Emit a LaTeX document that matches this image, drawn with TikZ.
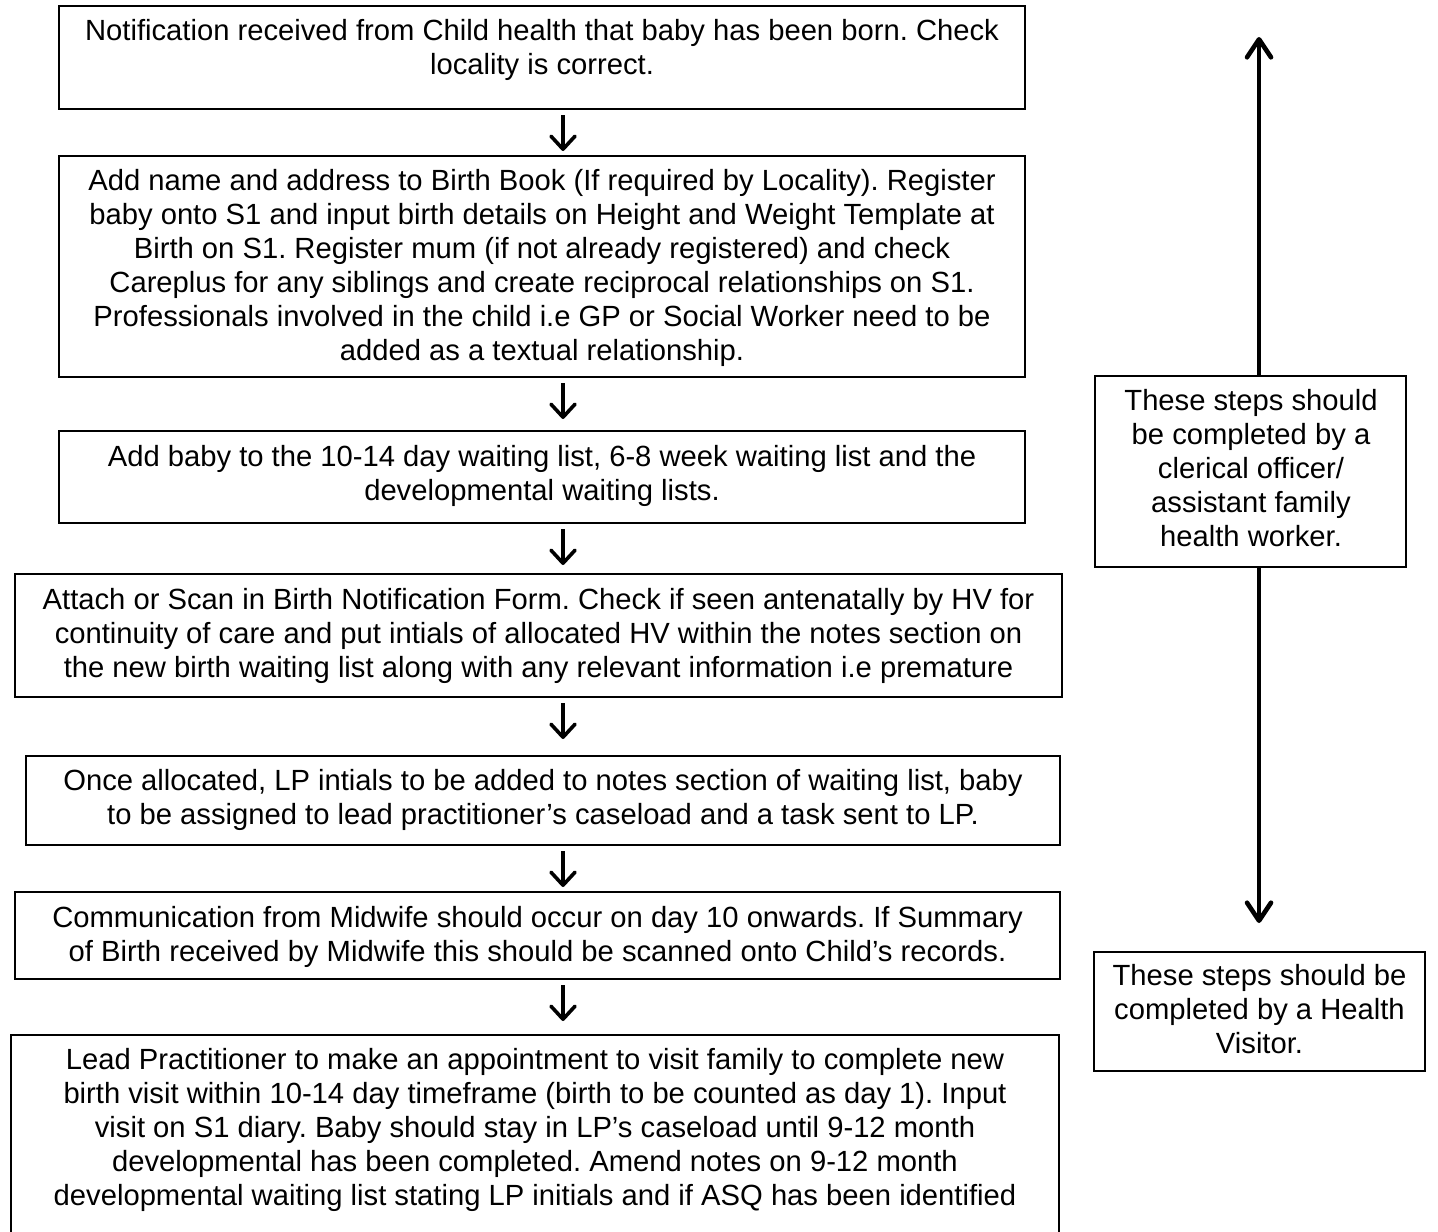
\documentclass[tikz,border=0pt]{standalone}
\usepackage{fontspec}
\setmainfont{Liberation Sans}
\usetikzlibrary{arrows.meta,fit}
\frenchspacing
\begin{document}
\begin{tikzpicture}[x=0.5pt,y=-0.5pt,
  frame/.style={draw=black, line width=1pt, inner sep=0pt},
  txt/.style={align=center, inner sep=0pt, font=\fontsize{14.6}{17}\selectfont},
  flow/.style={line width=1.8pt, -{Straight Barb[length=6.5pt,width=12pt,round]}},
  span/.style={line width=2.3pt, -{Straight Barb[length=9pt,width=12pt,round]}}]
\useasboundingbox (0,0) rectangle (1438,1231);
\fill[white] (0,0) rectangle (1438,1231);
\begin{scope}
\clip (0,0) rectangle (1438,1231);

% process boxes (left column)
\node[frame, fit={(59,6) (1025,109)}] (b1) {};
\node[frame, fit={(59,156) (1025,377)}] (b2) {};
\node[frame, fit={(59,431) (1025,523)}] (b3) {};
\node[frame, fit={(15,574) (1062,697)}] (b4) {};
\node[frame, fit={(26,756) (1060,845)}] (b5) {};
\node[frame, fit={(15,892) (1060,979)}] (b6) {};
\node[frame, fit={(11,1035) (1059,1250)}] (b7) {};

% role boxes (right column)
\node[frame, fit={(1095,376) (1406,567)}] (sa) {};
\node[frame, fit={(1094,952) (1425,1071)}] (sb) {};

% texts
\node[txt] (t1) at (542,51) {\strut Notification received from Child health that baby has been born. Check\\ locality is correct.\strut};
\node[txt] (t2) at (542,268.5) {\strut Add name and address to Birth Book (If required by Locality). Register\\
baby onto S1 and input birth details on Height and Weight Template at\\
Birth on S1. Register mum (if not already registered) and check\\
Careplus for any siblings and create reciprocal relationships on S1.\\
Professionals involved in the child i.e GP or Social Worker need to be\\
added as a textual relationship.\strut};
\node[txt] (t3) at (542,477) {\strut Add baby to the 10-14 day waiting list, 6-8 week waiting list and the\\ developmental waiting lists.\strut};
\node[txt] (t4) at (538.5,636.5) {\strut Attach or Scan in Birth Notification Form. Check if seen antenatally by HV for\\
continuity of care and put intials of allocated HV within the notes section on\\
the new birth waiting list along with any relevant information i.e premature\strut};
\node[txt] (t5) at (543,801) {\strut Once allocated, LP intials to be added to notes section of waiting list, baby\\
to be assigned to lead practitioner’s caseload and a task sent to LP.\strut};
\node[txt] (t6) at (537.5,938) {\strut Communication from Midwife should occur on day 10 onwards. If Summary\\
of Birth received by Midwife this should be scanned onto Child’s records.\strut};
\node[txt] (t7) at (535,1131) {\strut Lead Practitioner to make an appointment to visit family to complete new\\
birth visit within 10-14 day timeframe (birth to be counted as day 1). Input\\
visit on S1 diary. Baby should stay in LP’s caseload until 9-12 month\\
developmental has been completed. Amend notes on 9-12 month\\
developmental waiting list stating LP initials and if ASQ has been identified\strut};
\node[txt] (ta) at (1251,472) {\strut These steps should\\ be completed by a\\ clerical officer/\\ assistant family\\ health worker.\strut};
\node[txt] (tb) at (1259.5,1013) {\strut These steps should be\\ completed by a Health\\ Visitor.\strut};

% flow arrows between the steps
\coordinate (ax) at (563,0);
\draw[flow, shorten <=2.5pt, shorten >=2pt] (b1.south -| ax) -- (b2.north -| ax);
\draw[flow, shorten <=2.5pt, shorten >=5.5pt] (b2.south -| ax) -- (b3.north -| ax);
\draw[flow, shorten <=2.5pt, shorten >=4pt] (b3.south -| ax) -- (b4.north -| ax);
\draw[flow, shorten <=2.5pt, shorten >=8pt] (b4.south -| ax) -- (b5.north -| ax);
\draw[flow, shorten <=2.5pt, shorten >=2pt] (b5.south -| ax) -- (b6.north -| ax);
\draw[flow, shorten <=2.5pt, shorten >=6.5pt] (b6.south -| ax) -- (b7.north -| ax);

% span arrows of the clerical role box
\coordinate (uptip) at (1259,37);
\coordinate (dntip) at (1259,923);
\draw[span] (sa.north -| uptip) -- (uptip);
\draw[span] (sa.south -| dntip) -- (dntip);
\end{scope}
\end{tikzpicture}
\end{document}
